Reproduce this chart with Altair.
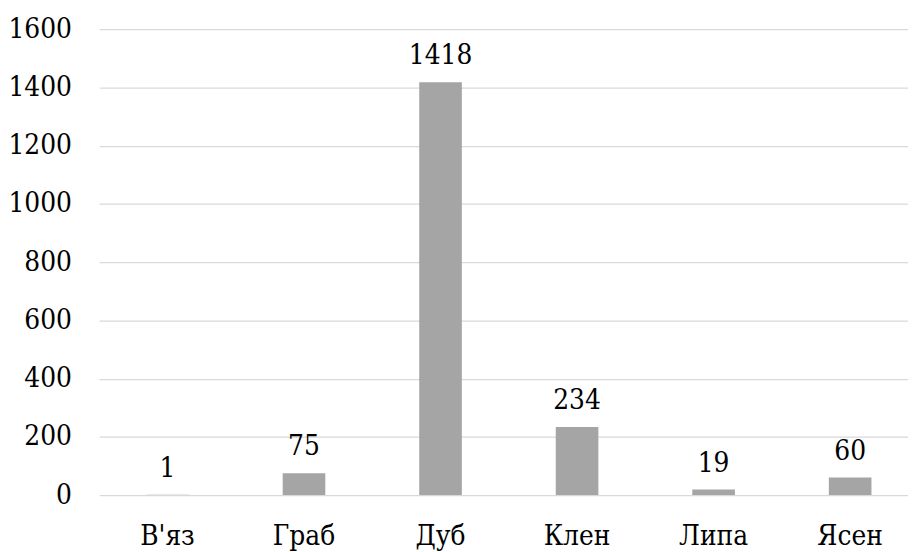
import altair as alt
import pandas as pd

categories = ["В'яз", "Граб", "Дуб", "Клен", "Липа", "Ясен"]
values = [1, 75, 1418, 234, 19, 60]
y_ticks = [0, 200, 400, 600, 800, 1000, 1200, 1400, 1600]

df = pd.DataFrame({"cat": categories, "val": values})

FONT = "DejaVu Serif Condensed, DejaVu Serif"
FS = 28

x_enc = alt.X(
    "cat:N",
    sort=categories,
    title=None,
    scale=alt.Scale(range=[0, 826.5], paddingInner=0, paddingOuter=0),
    axis=alt.Axis(labelAngle=0, domain=False, ticks=False, labelPadding=28,
                  labelFont=FONT, labelFontSize=FS, labelColor="#000000", grid=False),
)
y_enc = alt.Y(
    "val:Q",
    title=None,
    scale=alt.Scale(domain=[0, 1600], nice=False),
    axis=alt.Axis(values=y_ticks, format="d", domain=False, ticks=False, labelPadding=28,
                  labelFont=FONT, labelFontSize=FS, labelColor="#000000",
                  gridColor="#D9D9D9", gridWidth=1.3),
)

bars = alt.Chart(df).mark_bar(color="#A5A5A5", size=43).encode(x=x_enc, y=y_enc)
labels = alt.Chart(df).mark_text(
    font=FONT, fontSize=FS, color="#000000", baseline="alphabetic", dy=-18
).encode(x=alt.X("cat:N", sort=categories), y=alt.Y("val:Q"),
         text=alt.Text("val:Q", format="d"))

chart = (
    alt.layer(bars, labels)
    .properties(
        width=816,
        height=470,
        autosize=alt.AutoSizeParams(type="none"),
        padding={"left": 92, "top": 19, "right": 0, "bottom": 55},
    )
    .configure_view(stroke=None)
)

chart.save("out.html", embed_options={"renderer": "svg", "actions": False})
